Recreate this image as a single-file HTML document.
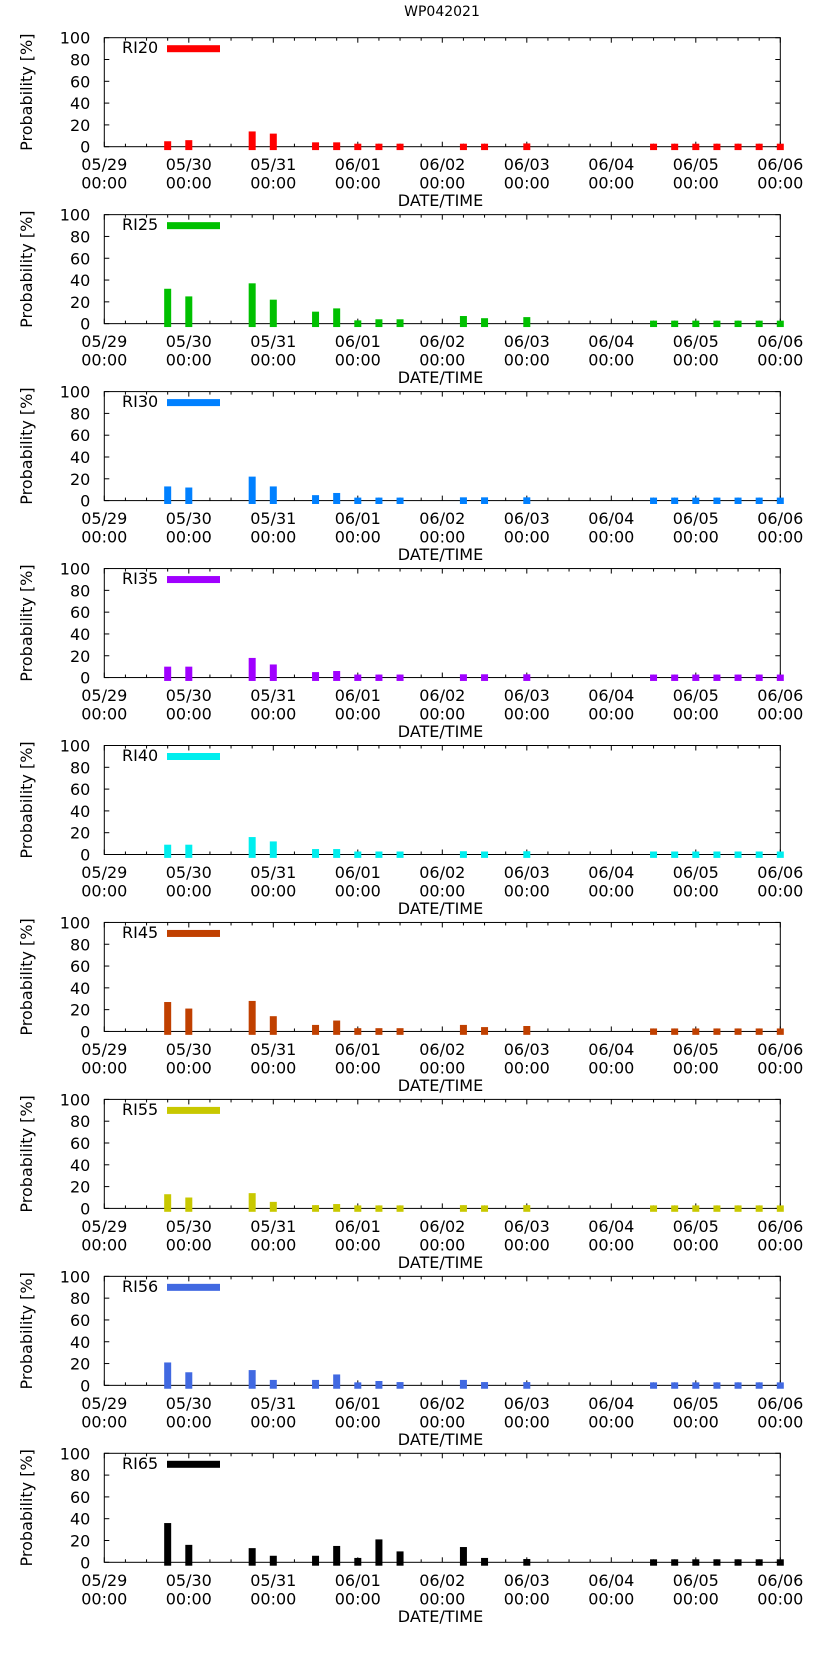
<!DOCTYPE html>
<html><head><meta charset="utf-8"><style>
html,body{margin:0;padding:0;background:#fff;}
svg{display:block;font-family:"DejaVu Sans","Liberation Sans",sans-serif;}
</style></head><body>
<svg id="chart" width="822" height="1653" viewBox="0 0 822 1653">
<text x="442" y="16" font-size="14" text-anchor="middle">WP042021</text>
</svg>
<script>
const panelNames = ["RI20","RI25","RI30","RI35","RI40","RI45","RI55","RI56","RI65"];
const panelColors = ["#ff0000","#00c000","#0080ff","#a000ff","#00eeee","#c04000","#c8c800","#4169e1","#000000"];
// bar times in hours since 05/29 00:00
const barHours = [18,24,42,48,60,66,72,78,84,102,108,120,156,162,168,174,180,186,192];
const ri20 = [5,6,14,12,4,4,2,2,2,2,2,3,2,2,2,2,2,2,2];
const ri25 = [32,25,37,22,11,14,3,4,4,7,5,6,2,2,2,2,2,2,2];
const ri30 = [13,12,22,13,5,7,2,2,2,3,3,3,2,2,2,2,2,2,2];
const ri35 = [10,10,18,12,5,6,2,2,2,3,3,3,2,2,2,2,2,2,2];
const ri40 = [9,9,16,12,5,5,2,2,2,3,2,3,2,2,2,2,2,2,2];
const ri45 = [27,21,28,14,6,10,3,3,3,6,4,5,2,2,2,2,2,2,2];
const ri55 = [13,10,14,6,3,4,2,2,2,3,2,3,2,2,2,2,2,2,2];
const ri56 = [21,12,14,5,5,10,2,4,3,5,3,3,2,2,2,2,2,2,2];
const ri65 = [36,16,13,6,6,15,4,21,10,14,4,3,2,2,2,2,2,2,2];
const series = [ri20,ri25,ri30,ri35,ri40,ri45,ri55,ri56,ri65];
const dateLabels = ["05/29","05/30","05/31","06/01","06/02","06/03","06/04","06/05","06/06"];
const yTicks = [0,20,40,60,80,100];

const svg = document.getElementById('chart');
const NS = "http://www.w3.org/2000/svg";
const L=104.3, R=780.3, TOP0=37.7, H=109, PITCH=176.95, HOURS=192;
function mk(tag, attrs, parent){const e=document.createElementNS(NS,tag);for(const k in attrs)e.setAttribute(k,attrs[k]);(parent||svg).appendChild(e);return e;}
function xs(h){return L+(R-L)*h/HOURS;}

panelNames.forEach((name,p)=>{
  const top=TOP0+p*PITCH, bot=top+H;
  const ys=v=>bot-H*v/100;
  const g=mk('g',{});
  
  
  const frame=mk('rect',{x:L,y:top,width:R-L,height:H,fill:'none',stroke:'#000','stroke-width':1},g);
  
  
  yTicks.forEach(t=>{
    const y=ys(t);
    mk('line',{x1:L,x2:L+5,y1:y,y2:y,stroke:'#000'},g);
    mk('line',{x1:R,x2:R-5,y1:y,y2:y,stroke:'#000'},g);
    const tx=mk('text',{x:L-14,y:y+6,'font-size':16,'text-anchor':'end'},g);
    tx.textContent=t;
    
    
  });
  for(let h=0;h<=HOURS;h+=6){
    const x=xs(h), len=(h%24===0)?5:3;
    mk('line',{x1:x,x2:x,y1:bot,y2:bot-len,stroke:'#000'},g);
    mk('line',{x1:x,x2:x,y1:top,y2:top+len,stroke:'#000'},g);
  }
  dateLabels.forEach((d,i)=>{
    const x=xs(i*24);
    const t1=mk('text',{x:x,y:bot+23.5,'font-size':16,'text-anchor':'middle'},g);
    t1.textContent=d;
    
    
    const t2=mk('text',{x:x,y:bot+42,'font-size':16,'text-anchor':'middle'},g);
    t2.textContent="00:00";
    
    
  });
  const xt=mk('text',{x:440.5,y:bot+59.5,'font-size':16,'text-anchor':'middle'},g);
  xt.textContent="DATE/TIME";
  
  
  const cy=top+H/2;
  const yt=mk('text',{x:32,y:cy,'font-size':16,'text-anchor':'middle',transform:`rotate(-90 32 ${cy})`},g);
  yt.textContent="Probability [%]";
  
  
  const lt=mk('text',{x:122,y:top+15.5,'font-size':16},g);
  lt.textContent=name;
  
  
  const sw=mk('rect',{x:167,y:top+7.5,width:53,height:7,fill:panelColors[p]},g);
  
  
  series[p].forEach((v,i)=>{
    const x=xs(barHours[i]);
    const yt2=Math.min(ys(v),bot-3);
    const b=mk('rect',{x:x-3.5,y:yt2,width:7,height:bot+3.4-yt2,fill:panelColors[p]},g);
    
    
  });
});
</script>
</body></html>
